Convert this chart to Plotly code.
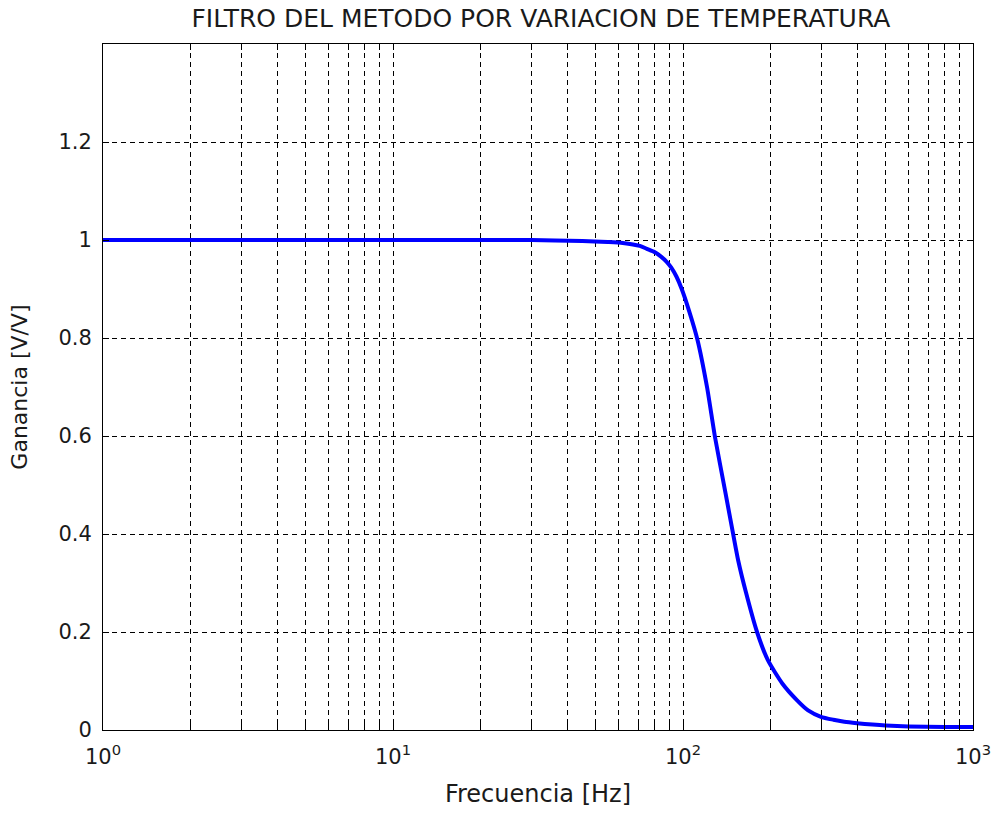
import plotly.graph_objects as go

# Frequency response of the temperature-variation filter
freq_hz = [1, 3, 10, 30, 45, 55, 62, 71, 75, 80, 84, 88, 91, 95, 99, 105, 112,
           121, 129, 140, 149, 155, 165, 180, 196, 220, 247, 270, 299, 330,
           360, 398, 450, 500, 600, 800, 1000]
gain_vv = [1.0, 1.0, 1.0, 1.0, 0.998, 0.996, 0.994, 0.988, 0.982, 0.975, 0.966,
           0.955, 0.944, 0.925, 0.900, 0.855, 0.798, 0.700, 0.597, 0.485,
           0.399, 0.346, 0.280, 0.200, 0.143, 0.095, 0.061, 0.040, 0.027,
           0.021, 0.017, 0.014, 0.011, 0.009, 0.007, 0.006, 0.006]

# Log-axis ticks: labelled decades plus unlabelled 2..9 multiples
x_tickvals = [1, 10, 100, 1000]
x_ticktext = ["10<sup>0</sup>", "10<sup>1</sup>", "10<sup>2</sup>", "10<sup>3</sup>"]
x_minorvals = [m * 10 ** d for d in range(3) for m in range(2, 10)]

y_tickvals = [0, 0.2, 0.4, 0.6, 0.8, 1.0, 1.2]
y_ticktext = ["0", "0.2", "0.4", "0.6", "0.8", "1", "1.2"]

FONT = "DejaVu Sans, Verdana, sans-serif"
TXT = "#1a1a1a"
DASH = "5px,4px"

fig = go.Figure()
fig.add_trace(go.Scatter(
    x=freq_hz, y=gain_vv, mode="lines",
    line=dict(color="#0000ff", width=4, shape="spline", smoothing=0.6),
    showlegend=False, hoverinfo="skip",
))

axis_common = dict(
    showline=True, linecolor="black", linewidth=1, mirror="ticks",
    ticks="inside", ticklen=6, tickcolor="black", tickwidth=1,
    showgrid=True, gridcolor="black", gridwidth=1.2, griddash=DASH,
    zeroline=False, automargin=False,
    tickfont=dict(family=FONT, size=21, color=TXT),
)

fig.update_xaxes(
    type="log", range=[0, 3],
    tickmode="array", tickvals=x_tickvals, ticktext=x_ticktext,
    minor=dict(tickmode="array", tickvals=x_minorvals, ticks="inside",
               ticklen=6, tickcolor="black", tickwidth=1,
               showgrid=True, gridcolor="black", gridwidth=1.2, griddash=DASH),
    ticklabelstandoff=8,
    title_text="Frecuencia [Hz]", title_standoff=16,
    title_font=dict(family=FONT, size=24, color=TXT),
    **axis_common,
)
fig.update_yaxes(
    range=[0, 1.4],
    tickmode="array", tickvals=y_tickvals, ticktext=y_ticktext,
    ticklabelstandoff=6,
    title_text="Ganancia [V/V]", title_standoff=24,
    title_font=dict(family=FONT, size=22, color=TXT),
    **axis_common,
)

fig.update_layout(
    width=998, height=814,
    margin=dict(l=103, r=25, t=44, b=84),
    paper_bgcolor="white", plot_bgcolor="white",
    title=dict(
        text="FILTRO DEL METODO POR VARIACION DE TEMPERATURA",
        x=0.542, xanchor="center", y=0.978, yanchor="middle",
        font=dict(family=FONT, size=25, color=TXT),
    ),
)

fig.write_html("out.html")
